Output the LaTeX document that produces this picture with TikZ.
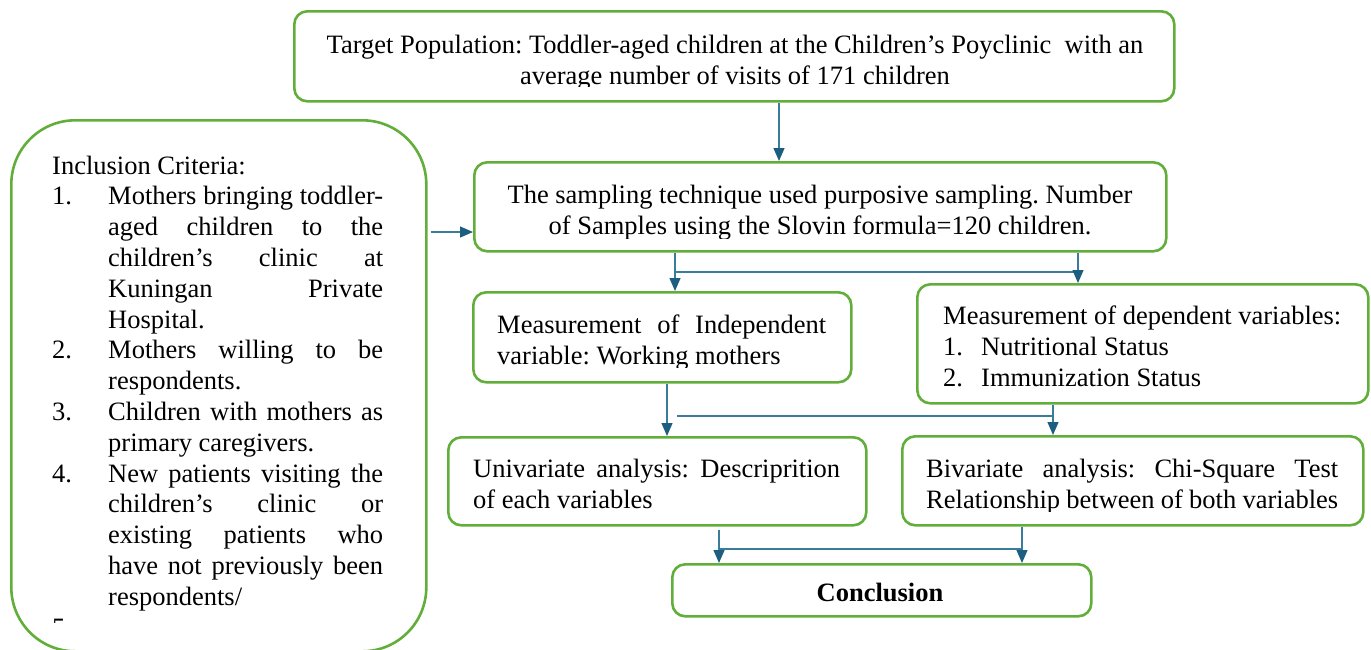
\documentclass[tikz,border=0pt]{standalone}
\usepackage{fontspec}
\setmainfont{Liberation Serif}
\usetikzlibrary{arrows.meta}
\frenchspacing
\definecolor{boxgreen}{HTML}{62AE3A}
\definecolor{arrowblue}{HTML}{1D5E80}
\definecolor{linkblue}{HTML}{3A7C9C}
\newcommand\LineS[2]{\hbox{\makebox[#1][s]{#2}}}
\newcommand\LineL[1]{\hbox{#1}}
\newcommand\ItemS[2]{\hbox{\makebox[56pt][l]{#1}\makebox[275pt][s]{#2}}}
\newcommand\ItemL[2]{\hbox{\makebox[56pt][l]{#1}#2}}
\tikzset{
  box/.style={draw=boxgreen, line width=2.6pt, rounded corners=13pt, anchor=north west, inner sep=0pt},
  conn/.style={draw=linkblue, line width=1.3pt},
  arr/.style={conn, -{Triangle[length=13pt,width=11pt,color=arrowblue]}},
  txt/.style={inner sep=0pt, font=\fontsize{26.5}{31}\selectfont},
}
\begin{document}
\begin{tikzpicture}[x=1pt,y=-1pt]
\useasboundingbox (0,0) rectangle (1371,649);
\clip (0,0) rectangle (1371,649);
% boxes
\node[box, minimum width=880pt, minimum height=90pt] (top) at (293,10) {};
\node[box, rounded corners=64pt, minimum width=415pt, minimum height=531pt] (incl) at (10,119) {};
\node[box, minimum width=692pt, minimum height=89pt] (samp) at (473,161) {};
\node[box, minimum width=378pt, minimum height=90pt] (indep) at (472,291) {};
\node[box, minimum width=451pt, minimum height=119pt] (dep) at (916,283) {};
\node[box, minimum width=418pt, minimum height=88pt] (univ) at (447,436) {};
\node[box, minimum width=461pt, minimum height=89pt] (biv) at (901,435) {};
\node[box, minimum width=419pt, minimum height=52pt] (concl) at (671,563) {};
% texts
\begin{scope}
\clip (293,10) rectangle (1173,86);
\node[txt, anchor=base] (ttop) at (735,53) {\vtop{\halign{\hfil#\hfil\cr
Target Population: Toddler-aged children at the Children’s Poyclinic\ \ with an\cr
average number of visits of 171 children\cr}}};
\end{scope}
\begin{scope}
\clip (473,161) rectangle (1165,238);
\node[txt, anchor=base] (tsamp) at (820,203) {\vtop{\halign{\hfil#\hfil\cr
The sampling technique used purposive sampling. Number\cr
of Samples using the Slovin formula=120 children.\cr}}};
\end{scope}
\begin{scope}
\clip (472,291) rectangle (850,367);
\node[txt, anchor=base west] (tindep) at (497,333) {\vtop{%
\LineS{329pt}{Measurement of Independent}\LineL{variable: Working mothers}}};
\end{scope}
\node[txt, anchor=base west] (tdep) at (943,324) {\vtop{%
\LineL{Measurement of dependent variables:}%
\hbox{\makebox[38pt][l]{1.}Nutritional Status}%
\hbox{\makebox[38pt][l]{2.}Immunization Status}}};
\node[txt, anchor=base west] (tuniv) at (473,477) {\vtop{%
\LineS{367pt}{Univariate analysis: Descriprition}\LineL{of each variables}}};
\begin{scope}
\clip (901,435) rectangle (1362,511);
\node[txt, anchor=base west] (tbiv) at (926,477) {\vtop{%
\LineS{412pt}{Bivariate analysis: Chi-Square Test}\LineS{412pt}{Relationship between of both variables}}};
\end{scope}
\node[txt, anchor=base, font=\fontsize{26.5}{31}\selectfont\bfseries] (tconcl) at (880,601) {Conclusion};
\begin{scope}
\clip (10,119) rectangle (425,622);
\node[txt, anchor=base west, font=\fontsize{26.5}{30.8}\selectfont] (tincl) at (52,174) {\vtop{%
\LineL{Inclusion Criteria:}%
\ItemS{1.}{Mothers bringing toddler-}%
\ItemS{}{aged children to the}%
\ItemS{}{children’s clinic at}%
\ItemS{}{Kuningan Private}%
\ItemL{}{Hospital.}%
\ItemS{2.}{Mothers willing to be}%
\ItemL{}{respondents.}%
\ItemS{3.}{Children with mothers as}%
\ItemL{}{primary caregivers.}%
\ItemS{4.}{New patients visiting the}%
\ItemS{}{children’s clinic or}%
\ItemS{}{existing patients who}%
\ItemS{}{have not previously been}%
\ItemL{}{respondents/}%
\ItemL{5.}{}}};
\end{scope}
% connector x positions
\coordinate (xa) at (779,0);
\coordinate (ya) at (0,232);
\coordinate (xb) at (675,0);
\coordinate (xc) at (1078,0);
\coordinate (yb) at (0,272);
\coordinate (xd) at (667,0);
\coordinate (xd2) at (677,0);
\coordinate (xe) at (1053,0);
\coordinate (yc) at (0,416);
\coordinate (yc0) at (0,405);
\coordinate (xf) at (719,0);
\coordinate (xg) at (1022,0);
\coordinate (yd) at (0,549);
\coordinate (yd0) at (0,530);
% connectors
\draw[arr] (top.south -| xa) -- (samp.north -| xa);
\draw[arr] ([xshift=3pt]incl.east |- ya) -- (samp.west |- ya);
\draw[arr] (samp.south -| xb) -- (indep.north -| xb);
\draw[conn] (xb |- yb) -- (xc |- yb);
\draw[arr] (samp.south -| xc) -- (dep.north -| xc);
\draw[arr] (indep.south -| xd) -- (univ.north -| xd);
\draw[conn] (xd2 |- yc) -- (xe |- yc);
\draw[arr] (xe |- yc0) -- (biv.north -| xe);
\draw[arr] (xf |- yd0) -- (concl.north -| xf);
\draw[conn] (xf |- yd) -- (xg |- yd);
\draw[arr] (biv.south -| xg) -- (concl.north -| xg);
\end{tikzpicture}
\end{document}
